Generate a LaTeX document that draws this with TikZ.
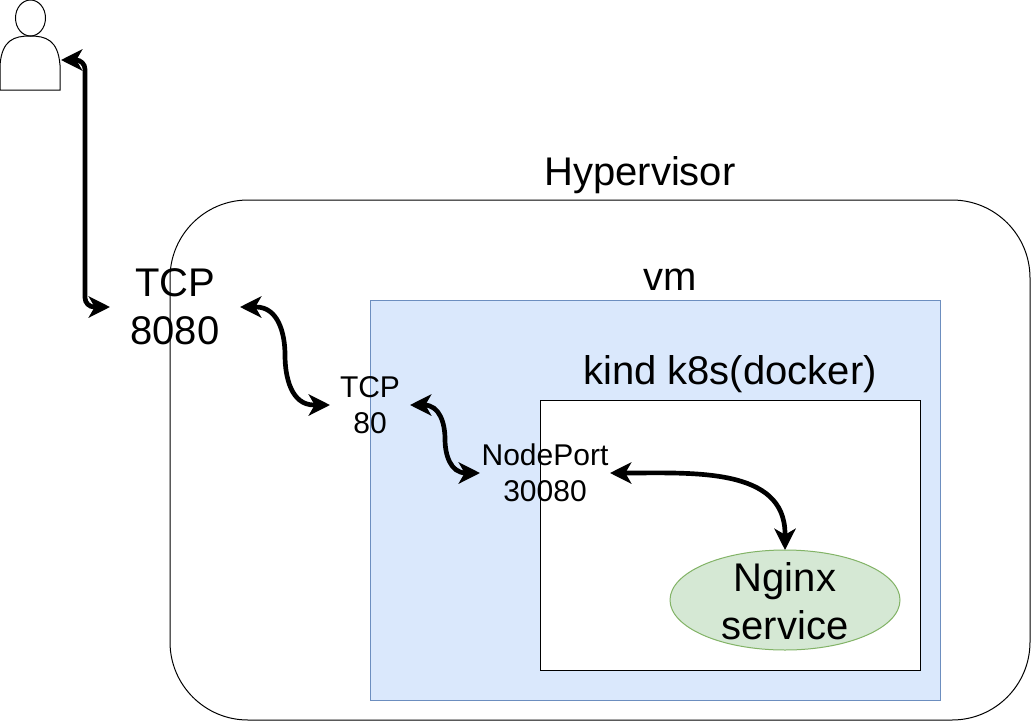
\documentclass[tikz,border=0pt]{standalone}
\usepackage{fontspec}
\setmainfont{Liberation Sans}
\usetikzlibrary{arrows.meta,positioning,shapes}
\definecolor{vmfill}{HTML}{DAE8FC}
\definecolor{vmline}{HTML}{6C8EBF}
\definecolor{svcfill}{HTML}{D5E8D4}
\definecolor{svcline}{HTML}{82B366}

\begin{document}
\begin{tikzpicture}[
    x=0.75pt,y=-0.75pt,
    obj/.style={draw,line width=0.75pt,inner sep=0pt,outer sep=0pt},
    big/.style={inner sep=0pt,outer sep=0pt,align=center,font=\fontsize{30}{36}\selectfont},
    small/.style={inner sep=0pt,outer sep=0pt,align=center,font=\fontsize{22.5}{27}\selectfont},
    arr/.style={{Stealth[length=16pt,width=16pt,inset=4.5pt]}-{Stealth[length=16pt,width=16pt,inset=4.5pt]},line width=3.5pt}
]
\useasboundingbox (0,0) rectangle (1031,721);

% boxes
\node[obj,rounded corners=58.5pt,minimum width=645pt,minimum height=390pt] (hypervisor) at (600,460) {};
\node[obj,draw=vmline,fill=vmfill,minimum width=427.5pt,minimum height=300pt] (vm) at (655,500) {};
\node[obj,fill=white,minimum width=285pt,minimum height=202.5pt] (kind) at (730,535) {};
\node[obj,draw=svcline,fill=svcfill,ellipse,minimum width=172.5pt,minimum height=75pt] (nginx) at (785,600) {};

% titles
\node[big] (hvtitle) at (640,175) {Hypervisor};
\node[big] (vmtitle) at (670,280) {vm};
\node[big] (kindtitle) at (730,374) {kind k8s(docker)};
\node[big] (nginxtext) at (785,601) {Nginx\\service};

% person
\node[obj,ellipse,minimum width=22.5pt,minimum height=27pt] (head) at (30.5,18) {};
\draw[line width=0.75pt] (0,90) -- (0,65) .. controls (2,40) and (14,36) .. (30,36)
    .. controls (46,36) and (58,40) .. (60,65) -- (60,90) -- cycle;
\coordinate (user) at (61,60);

% ports
\node[big,minimum width=97.5pt,minimum height=60pt] (tcpout) at (175,307) {TCP\\8080};
\node[small,minimum width=60pt,minimum height=45pt] (tcpin) at (370,405) {TCP\\80};
\node[small,minimum width=97.5pt,minimum height=45pt] (nodeport) at (545,473) {NodePort\\30080};

% links
\coordinate (bendA) at (285,355);
\coordinate (bendB) at (445,439);
\draw[arr,rounded corners=7pt] (user) -- ++(24,0) |- (tcpout.west);
\draw[arr] (tcpout.east) -- ++(16,0) to[out=0,in=90] (bendA) to[out=-90,in=180] ([xshift=-12pt]tcpin.west) -- (tcpin.west);
\draw[arr] (tcpin.east) -- ++(14,0) to[out=0,in=90] (bendB) to[out=-90,in=180] ([xshift=-10.5pt]nodeport.west) -- (nodeport.west);
\draw[arr] (nodeport.east) -- ++(16,0) to[out=0,in=90] ([yshift=12pt]nginx.north) -- (nginx.north);
\end{tikzpicture}
\end{document}
